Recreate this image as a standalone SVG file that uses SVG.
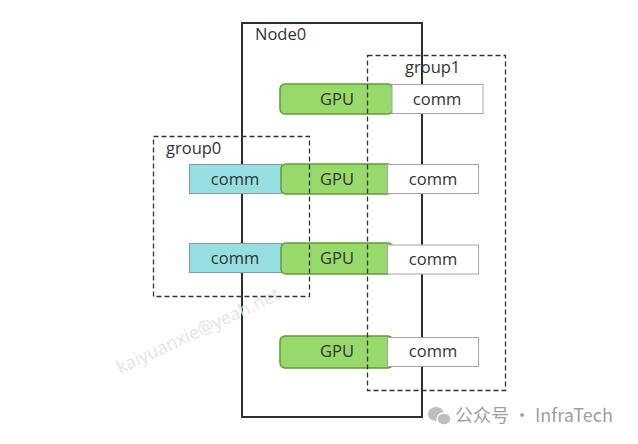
<svg xmlns="http://www.w3.org/2000/svg" width="638" height="444" viewBox="0 0 638 444">
<style>
text{font-family:"Open Sans","Noto Sans","Liberation Sans",sans-serif;font-size:16.5px;fill:#333}
.c{text-anchor:middle}
.gpu{fill:#98d96b;stroke:#5c9e34;stroke-width:1.5}
.cw{fill:#fff;stroke:#a6a6a6;stroke-width:1}
.cc{fill:#95dfe1;stroke:#8a9a9a;stroke-width:1}
.grp{fill:none;stroke:#333;stroke-width:1.3;stroke-dasharray:5,3}
.wm{fill:#e4e4e4;font-size:18px}
</style>
<rect width="638" height="444" fill="#fff"/>
<g id="Node0">
<rect x="242" y="23" width="180" height="394" fill="none" stroke="#2a2f35" stroke-width="2"/>
<text x="255" y="40">Node0</text>
</g>
<text class="wm" x="120" y="374" transform="rotate(-25 120 374)">kaiyuanxie@yeah.net</text>
<g id="gpu0"><rect class="gpu" x="280" y="84" width="113" height="30" rx="5"/><text class="c" x="337" y="105">GPU</text></g>
<g id="comm1a"><rect class="cw" x="392" y="84.5" width="91" height="29"/><text class="c" x="437" y="105">comm</text></g>
<g id="comm0a"><rect class="cc" x="189.5" y="164.5" width="92" height="29"/><text class="c" x="235" y="185">comm</text></g>
<g id="gpu1"><rect class="gpu" x="281" y="164" width="112" height="30" rx="5"/><text class="c" x="337" y="185">GPU</text></g>
<g id="comm1b"><rect class="cw" x="387.5" y="164.5" width="91" height="29"/><text class="c" x="433" y="185">comm</text></g>
<g id="comm0b"><rect class="cc" x="189.5" y="243.5" width="92" height="29"/><text class="c" x="235" y="264">comm</text></g>
<g id="gpu2"><rect class="gpu" x="281" y="243" width="112" height="31" rx="5"/><text class="c" x="337" y="264">GPU</text></g>
<g id="comm1c"><rect class="cw" x="387.5" y="245" width="91" height="29"/><text class="c" x="433" y="265">comm</text></g>
<g id="gpu3"><rect class="gpu" x="280" y="336" width="113" height="32" rx="5"/><text class="c" x="337" y="357">GPU</text></g>
<g id="comm1d"><rect class="cw" x="387.5" y="337.5" width="91" height="29"/><text class="c" x="433" y="357">comm</text></g>
<g id="group0">
<rect class="grp" x="153.5" y="136.5" width="156" height="160"/>
<text x="166" y="154">group0</text>
</g>
<g id="group1">
<rect class="grp" x="367.5" y="55.5" width="138" height="335"/>
<text x="405" y="73">group1</text>
</g>
<g id="connectors"></g>
<g id="footer">
<ellipse cx="436" cy="414" rx="8" ry="7" fill="#bdbdbd"/>
<ellipse cx="444" cy="419" rx="7" ry="6" fill="#bdbdbd" stroke="#fff" stroke-width="1.5"/>
<text x="455" y="422" style="fill:#a0a0a0;font-size:18px;font-family:'Noto Sans CJK SC','Noto Sans',sans-serif">公众号 · InfraTech</text>
</g>
</svg>
